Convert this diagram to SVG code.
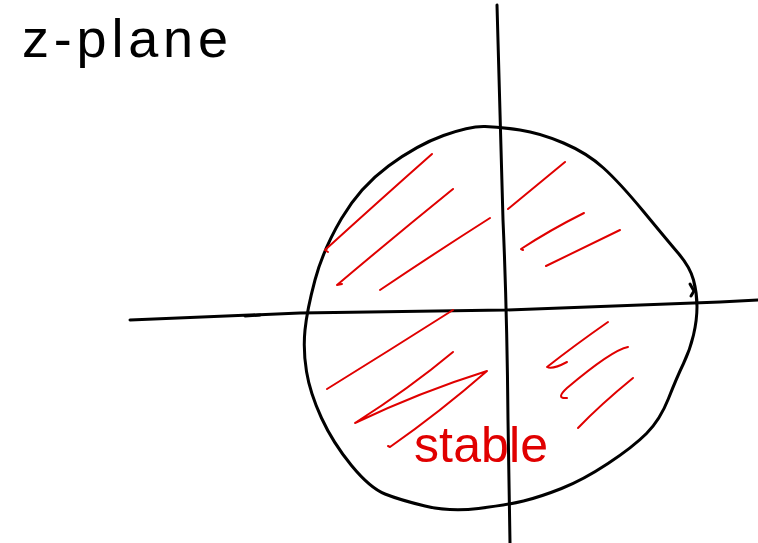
<svg xmlns="http://www.w3.org/2000/svg" width="758" height="543" viewBox="0 0 758 543">
<style>
.ink{fill:none;stroke:#000;stroke-width:3;stroke-linecap:round;stroke-linejoin:round}
.red{fill:none;stroke:#e00000;stroke-width:2;stroke-linecap:round;stroke-linejoin:round}
.hand{font-family:"Liberation Sans","DejaVu Sans",sans-serif}
</style>
<rect width="758" height="543" fill="#fff"/>
<g id="label-zplane">
<text class="hand" x="22" y="57" font-size="54" textLength="206" lengthAdjust="spacing" fill="#000">z-plane</text>
</g>
<g id="unit-circle">
<path class="ink" d="M443.5,135.5 Q470,126 485,126.5 Q500,127 520,130 Q540,133 563.5,143 Q587,153 603.5,168 Q620,183 643.5,211.5 Q667,240 678.5,253.5 Q690,267 693.5,280 Q697,293 697,306.5 Q697,320 693.5,335 Q690,350 683.5,363.5 Q677,377 668.5,398.5 Q660,420 646.5,433.5 Q633,447 608,463.5 Q583,480 561.5,488.5 Q540,497 523.5,501 Q507,505 478.5,508.5 Q450,512 425,506 Q400,500 385,494 Q370,488 351.5,465.5 Q333,443 321.5,418 Q310,393 306.5,371.5 Q303,350 305,330 Q307,310 315,280 Q323,250 341.5,218.5 Q360,187 388.5,166 Q417,145 443.5,135.5"/>
<path class="ink" d="M690,284 L694,291 L691,296" stroke-width="2"/>
</g>
<g id="axes">
<path class="ink" d="M130,320 L300,313 L505,310 L720,302 L758,300"/>
<path class="ink" d="M245,316 L260,315" stroke-width="3.5"/>
<path class="ink" d="M497,5 Q500,126 503,220 Q507,310 508,420 L510,543"/>
</g>
<g id="hatching">
<path class="red" d="M328,252 L325,250 Q380,200 432,154"/>
<path class="red" d="M342,284 L337,285 Q395,236 453,189"/>
<path class="red" d="M380,290 Q435,253 490,218"/>
<path class="red" d="M508,209 Q536,186 565,162"/>
<path class="red" d="M523,250 L521,249 Q550,230 584,213"/>
<path class="red" d="M546,266 Q583,248 620,230"/>
<path class="red" d="M327,389 Q390,350 453,310"/>
<path class="red" d="M453,352 Q410,388 355,423 Q420,392 487,371 Q440,412 390,447 L388,446" stroke-width="1.6"/>
<path class="red" d="M608,322 Q575,345 547,367 Q552,370 567,362"/>
<path class="red" d="M628,347 Q612,350 567,388 Q555,399 567,398"/>
<path class="red" d="M633,378 Q600,405 578,428"/>
</g>
<g id="label-stable">
<text class="hand" x="414" y="462" font-size="50" textLength="134" lengthAdjust="spacing" fill="#e00000">stable</text>
</g>
</svg>
